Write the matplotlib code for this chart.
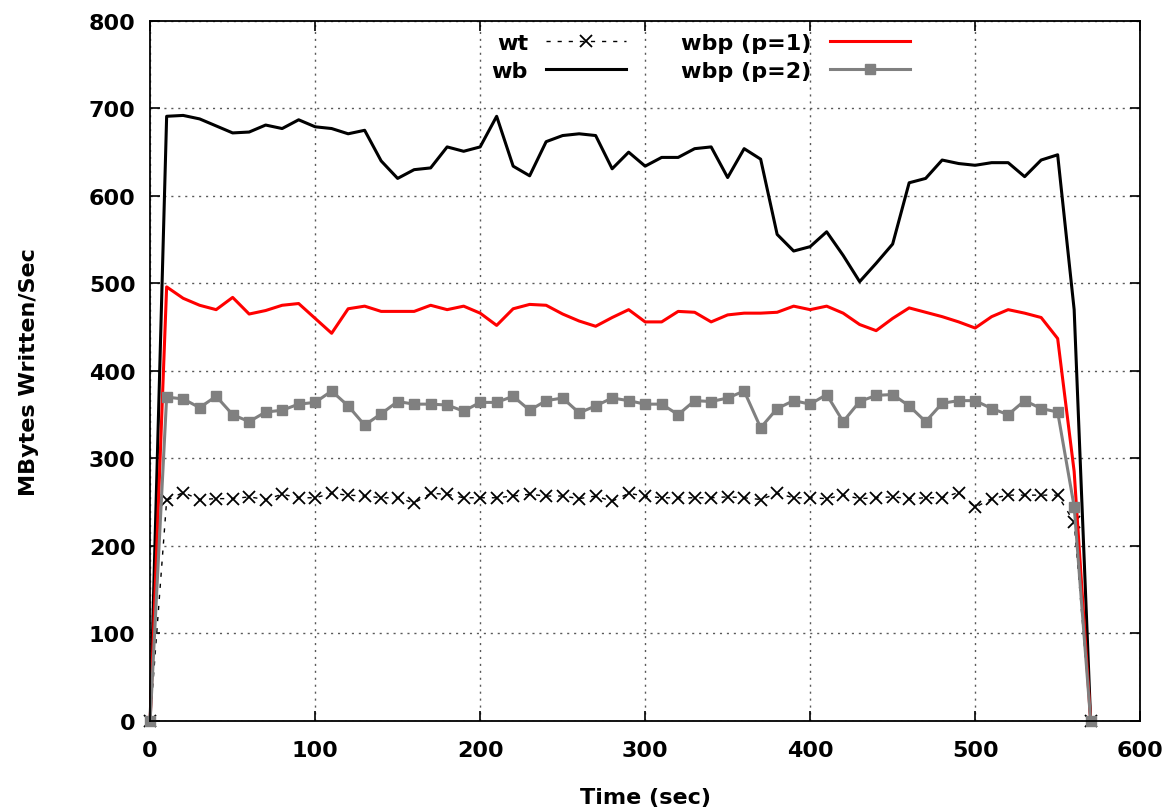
import numpy as np
import matplotlib.pyplot as plt

# time axis (sec), one sample every 10 sec
time = np.arange(0, 580, 10)

# MBytes written per second for each write policy
wt = [0, 252, 261, 253, 254, 254, 256, 253, 259, 255,
      255, 260, 258, 257, 255, 255, 249, 260, 259, 255,
      255, 255, 257, 259, 257, 257, 254, 257, 251, 260,
      257, 255, 255, 255, 255, 256, 255, 253, 260, 255,
      255, 254, 258, 254, 255, 256, 254, 255, 255, 261,
      244, 254, 258, 258, 258, 258, 227, 0]
wb = [0, 691, 692, 688, 680, 672, 673, 681, 677, 687,
      679, 677, 671, 675, 640, 620, 630, 632, 656, 651,
      656, 691, 634, 623, 662, 669, 671, 669, 631, 650,
      634, 644, 644, 654, 656, 621, 654, 642, 556, 537,
      542, 559, 532, 502, 523, 545, 615, 620, 641, 637,
      635, 638, 638, 622, 641, 647, 470, 0]
wbp1 = [0, 496, 483, 475, 470, 484, 465, 469, 475, 477,
        460, 443, 471, 474, 468, 468, 468, 475, 470, 474,
        466, 452, 471, 476, 475, 465, 457, 451, 461, 470,
        456, 456, 468, 467, 456, 464, 466, 466, 467, 474,
        470, 474, 466, 453, 446, 460, 472, 467, 462, 456,
        449, 462, 470, 466, 461, 437, 285, 0]
wbp2 = [0, 370, 368, 358, 371, 350, 342, 353, 355, 362,
        364, 377, 360, 338, 351, 365, 362, 362, 361, 354,
        364, 364, 371, 355, 366, 369, 352, 360, 369, 366,
        362, 362, 350, 366, 365, 369, 377, 335, 357, 366,
        362, 373, 342, 365, 372, 373, 360, 342, 363, 366,
        366, 357, 350, 366, 357, 353, 245, 0]

plt.rcParams['font.family'] = 'DejaVu Sans'
plt.rcParams['font.weight'] = 'bold'

fig = plt.figure(figsize=(11.73, 8.12), dpi=100)
ax = fig.add_axes([0.128, 0.111, 0.844, 0.862])

ax.plot(time, wt, color='black', lw=1, ls=(0, (3, 5)), marker='x',
        ms=8, mew=1.3, label='wt', clip_on=False)
ax.plot(time, wb, color='black', lw=2.2, label='wb', clip_on=False)
ax.plot(time, wbp1, color='red', lw=2.2, label='wbp (p=1)', clip_on=False)
ax.plot(time, wbp2, color='grey', lw=2.2, marker='s', ms=7.5,
        label='wbp (p=2)', clip_on=False)

ax.set_xlim(0, 600)
ax.set_ylim(0, 800)
ax.set_xticks(range(0, 601, 100))
ax.set_yticks(range(0, 801, 100))
ax.tick_params(direction='in', length=7, width=1.2, top=True, right=True,
               labelsize=16)
ax.tick_params(axis='x', pad=14)
ax.tick_params(axis='y', pad=10.5)
for lbl in ax.get_xticklabels() + ax.get_yticklabels():
    lbl.set_fontweight('bold')
for s in ax.spines.values():
    s.set_linewidth(1.3)

ax.grid(True, color='0.35', ls=(0, (1.5, 3.5)), lw=1)

ax.set_xlabel('Time (sec)', fontsize=16, fontweight='bold', labelpad=19)
ax.set_ylabel('MBytes Written/Sec', fontsize=16, fontweight='bold', labelpad=36)

ax.legend(loc='upper center', bbox_to_anchor=(0.556, 1.0), ncol=2,
          frameon=False, markerfirst=False, fontsize=16, handlelength=3.6,
          columnspacing=2.5, labelspacing=0.36, borderaxespad=0.15)

plt.savefig('out.png', dpi=100)
